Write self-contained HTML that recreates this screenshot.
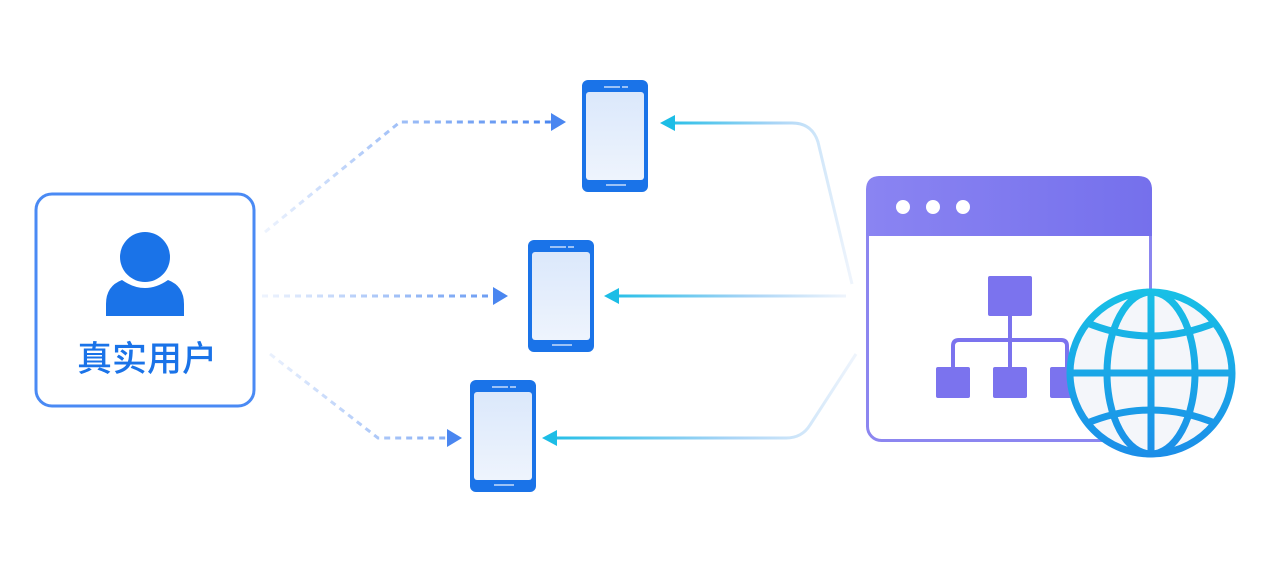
<!DOCTYPE html>
<html><head><meta charset="utf-8"><style>
html,body{margin:0;padding:0;background:#fff;width:1280px;height:562px;overflow:hidden}
</style></head><body>
<svg width="1280" height="562" viewBox="0 0 1280 562" xmlns="http://www.w3.org/2000/svg">
<defs>
<linearGradient id="dl1" x1="265" y1="0" x2="550" y2="0" gradientUnits="userSpaceOnUse"><stop offset="0" stop-color="#4a86f0" stop-opacity="0.1"/><stop offset="1" stop-color="#4a86f0"/></linearGradient>
<linearGradient id="rl1" x1="660" y1="0" x2="850" y2="0" gradientUnits="userSpaceOnUse"><stop offset="0" stop-color="#1cbde6"/><stop offset="0.6" stop-color="#a8d4f6"/><stop offset="1" stop-color="#eef4fc"/></linearGradient>
<linearGradient id="rl3" x1="542" y1="0" x2="855" y2="0" gradientUnits="userSpaceOnUse"><stop offset="0" stop-color="#1cbde6"/><stop offset="0.6" stop-color="#a8d4f6"/><stop offset="1" stop-color="#eef4fc"/></linearGradient>
<linearGradient id="rl2" x1="604" y1="0" x2="845" y2="0" gradientUnits="userSpaceOnUse"><stop offset="0" stop-color="#1cbde6"/><stop offset="0.6" stop-color="#a8d4f6"/><stop offset="1" stop-color="#eef4fc"/></linearGradient>
<linearGradient id="scr" x1="0" y1="0" x2="0" y2="1"><stop offset="0" stop-color="#dbe8fb"/><stop offset="1" stop-color="#eef4fd"/></linearGradient>
<linearGradient id="hdr" x1="0" y1="0" x2="1" y2="0"><stop offset="0" stop-color="#8a84f2"/><stop offset="1" stop-color="#7570ec"/></linearGradient>
<linearGradient id="glb" x1="0" y1="290" x2="0" y2="456" gradientUnits="userSpaceOnUse"><stop offset="0" stop-color="#18c0e6"/><stop offset="1" stop-color="#1b8ee8"/></linearGradient>
</defs>

<rect x="36" y="194" width="218" height="212" rx="16" fill="#fff" stroke="#4a8af4" stroke-width="3"/>
<circle cx="145" cy="257" r="25" fill="#1a73e8"/>
<path d="M106 316 L106 304 Q106 286 122 280 Q145 296 168 280 Q184 286 184 304 L184 316 Z" fill="#1a73e8"/>
<text x="147" y="371" text-anchor="middle" font-family="Liberation Sans,'Noto Sans CJK SC',sans-serif" font-size="35" font-weight="500" fill="#1a73e8">真实用户</text>

<g fill="none" stroke-width="3" stroke-dasharray="6 5">
<path d="M265 232 L400 122 L552 122" stroke="url(#dl1)"/>
<path d="M262 296 L494 296" stroke="url(#dl1)"/>
<path d="M270 354 L378 438 L448 438" stroke="url(#dl1)"/>
</g>
<polygon points="551,113 566,122 551,131" fill="#4a86f0"/>
<polygon points="493,287 508,296 493,305" fill="#4a86f0"/>
<polygon points="447,429 462,438 447,447" fill="#4a86f0"/>

<g fill="none" stroke-width="3">
<path d="M852 284 L818 142 Q812 123 792 123 L672 123" stroke="url(#rl1)"/>
<path d="M846 296 L616 296" stroke="url(#rl2)"/>
<path d="M856 354 L810 425 Q802 438 786 438 L554 438" stroke="url(#rl3)"/>
</g>
<polygon points="675,115 660,123 675,131" fill="#1cbde6"/>
<polygon points="619,288 604,296 619,304" fill="#1cbde6"/>
<polygon points="557,430 542,438 557,446" fill="#1cbde6"/>

<g id="p1">
<rect x="582" y="80" width="66" height="112" rx="6" fill="#1a73e8"/>
<rect x="586" y="92" width="58" height="88" rx="3" fill="url(#scr)"/>
<rect x="604" y="86" width="16" height="2" fill="#9cc2f6"/><rect x="622" y="86" width="6" height="2" fill="#9cc2f6"/>
<rect x="606" y="184" width="20" height="2" fill="#9cc2f6"/>
</g>
<use href="#p1" x="-54" y="160"/>
<use href="#p1" x="-112" y="300"/>

<rect x="867.5" y="177.5" width="283" height="263" rx="14" fill="#fff" stroke="#8c86f0" stroke-width="3"/>
<path d="M866 190 Q866 176 880 176 L1138 176 Q1152 176 1152 190 L1152 236 L866 236 Z" fill="url(#hdr)"/>
<circle cx="903" cy="207" r="7" fill="#fff"/><circle cx="933" cy="207" r="7" fill="#fff"/><circle cx="963" cy="207" r="7" fill="#fff"/>
<rect x="988" y="276" width="44" height="40" rx="2" fill="#7b73ee"/>
<path d="M1010 316 L1010 368 M953 368 L953 346 Q953 340 959 340 L1061 340 Q1067 340 1067 346 L1067 368" fill="none" stroke="#7b73ee" stroke-width="4"/>
<rect x="936" y="367" width="34" height="31" rx="2" fill="#7b73ee"/>
<rect x="993" y="367" width="34" height="31" rx="2" fill="#7b73ee"/>
<rect x="1050" y="367" width="34" height="31" rx="2" fill="#7b73ee"/>

<g fill="none" stroke="url(#glb)" stroke-width="7">
<circle cx="1151" cy="373" r="81" fill="#f4f6fa"/>
<ellipse cx="1151" cy="373" rx="44" ry="81"/>
<path d="M1151 292 L1151 454"/>
<path d="M1070 373 L1232 373"/>
<path d="M1085 322 Q1151 350 1217 322"/>
<path d="M1085 424 Q1151 396 1217 424"/>
</g>
</svg>
</body></html>
